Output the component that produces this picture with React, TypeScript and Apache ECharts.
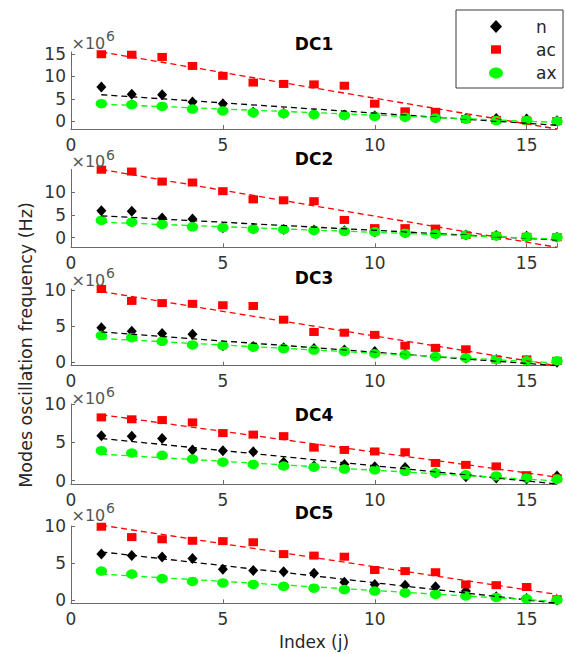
import React, { useEffect, useRef } from "react";
import * as echarts from "echarts";

// Index of the oscillation mode
const indexJ = [1, 2, 3, 4, 5, 6, 7, 8, 9, 10, 11, 12, 13, 14, 15, 16];
const panelNames = ["DC1", "DC2", "DC3", "DC4", "DC5"];
const seriesNames = ["n", "ac", "ax"];
const xTickValues = [0, 5, 10, 15];
const yTickValues = [0, 5, 10, 15];

// Mode oscillation frequencies, in units of 10^6 Hz
const nDC1 = [7.6, 6.0, 5.9, 4.3, 3.9, 2.0, 1.8, 1.6, 1.4, 1.2, 1.0, 0.8, 0.6, 0.6, 0.5, 0.1];
const acDC1 = [14.9, 14.8, 14.3, 12.3, 10.1, 8.6, 8.3, 8.2, 7.9, 3.9, 2.2, 2.1, 0.5, 0.3, 0.15, 0.05];
const axDC1 = [3.9, 3.7, 3.3, 2.7, 2.3, 1.9, 1.7, 1.5, 1.3, 1.1, 0.9, 0.7, 0.45, 0.15, 0.15, 0.0];

const nDC2 = [5.9, 5.8, 4.3, 4.1, 2.2, 2.0, 1.8, 1.7, 1.5, 1.3, 1.1, 0.9, 0.6, 0.5, 0.3, 0.1];
const acDC2 = [14.9, 14.5, 12.3, 12.1, 10.2, 8.4, 8.2, 8.0, 3.9, 2.1, 2.1, 2.0, 0.6, 0.4, 0.2, 0.1];
const axDC2 = [3.8, 3.4, 2.9, 2.4, 2.2, 1.9, 1.8, 1.6, 1.4, 1.3, 1.0, 0.8, 0.6, 0.4, 0.2, 0.1];

const nDC3 = [4.8, 4.3, 4.0, 3.9, 2.3, 2.2, 2.0, 1.9, 1.7, 1.5, 1.1, 0.9, 0.6, 0.4, 0.2, 0.0];
const acDC3 = [10.15, 8.5, 8.2, 8.1, 7.9, 7.8, 5.9, 4.2, 4.1, 3.8, 2.3, 2.0, 1.8, 0.4, 0.4, 0.2];
const axDC3 = [3.7, 3.4, 2.9, 2.4, 2.3, 2.1, 1.9, 1.7, 1.5, 1.2, 1.05, 0.8, 0.6, 0.4, 0.2, 0.2];

const nDC4 = [5.85, 5.8, 5.5, 4.0, 3.9, 3.75, 2.4, 1.9, 2.1, 1.8, 1.7, 1.0, 0.5, 0.35, 0.2, 0.6];
const acDC4 = [8.25, 8.0, 7.9, 7.6, 6.2, 6.0, 5.8, 4.3, 4.0, 3.8, 3.7, 2.3, 2.05, 1.85, 0.7, 0.3];
const axDC4 = [3.9, 3.6, 3.3, 2.8, 2.4, 2.1, 1.9, 1.75, 1.5, 1.4, 1.2, 1.0, 0.75, 0.6, 0.35, 0.2];

const nDC5 = [6.2, 6.0, 5.8, 5.6, 4.15, 4.0, 3.8, 3.6, 2.4, 2.1, 2.0, 1.8, 1.2, 0.45, 0.2, 0.0];
const acDC5 = [9.9, 8.5, 8.2, 8.0, 7.95, 7.8, 6.2, 6.0, 5.85, 4.05, 3.9, 3.75, 2.1, 2.0, 1.75, 0.1];
const axDC5 = [3.9, 3.5, 2.9, 2.5, 2.3, 2.1, 1.85, 1.6, 1.4, 1.2, 0.95, 0.75, 0.55, 0.35, 0.15, 0.0];

// Linear fits: fitted value at j = 1 and at j = 16
const nFitDC1 = [5.9, -0.9];
const acFitDC1 = [15.4, -1.72];
const axFitDC1 = [3.8, -0.25];
const nFitDC2 = [4.8, -0.5];
const acFitDC2 = [14.95, -2.1];
const axFitDC2 = [3.4, -0.3];
const nFitDC3 = [4.2, -0.47];
const acFitDC3 = [9.8, -0.47];
const axFitDC3 = [3.3, -0.1];
const nFitDC4 = [5.5, -0.45];
const acFitDC4 = [8.6, 0.45];
const axFitDC4 = [3.45, -0.05];
const nFitDC5 = [6.5, -0.45];
const acFitDC5 = [10.1, 0.75];
const axFitDC5 = [3.5, -0.2];

// Y-axis limits of each panel
const yMinDC = [-1.72, -2.1, -0.47, -0.45, -0.45];
const yMaxDC = [15.4, 14.95, 10.15, 10.0, 10.0];

const pointData = [
  [nDC1, acDC1, axDC1],
  [nDC2, acDC2, axDC2],
  [nDC3, acDC3, axDC3],
  [nDC4, acDC4, axDC4],
  [nDC5, acDC5, axDC5],
];
const fitData = [
  [nFitDC1, acFitDC1, axFitDC1],
  [nFitDC2, acFitDC2, axFitDC2],
  [nFitDC3, acFitDC3, axFitDC3],
  [nFitDC4, acFitDC4, axFitDC4],
  [nFitDC5, acFitDC5, axFitDC5],
];

const FONT = "DejaVu Sans";
const AXIS_COLOR = "#6a6a6a";
const LABEL_COLOR = "#333333";
const COLORS = ["#000000", "#ff0000", "#00ff00"];
const SYMBOLS = ["diamond", "rect", "circle"];
const SYMBOL_SIZES: number[][] = [
  [10, 11],
  [9.5, 8],
  [11.5, 9.5],
];

const PLOT_LEFT = 71;
const PLOT_WIDTH = 486;
const PANEL_TOPS = [52, 169.5, 289, 404, 526];
const PANEL_HEIGHTS = [77, 77.8, 76.7, 80, 77.3];
const TITLE_Y = [43.5, 159, 278, 415, 513];
const EXPONENT_Y = [43, 161.5, 280, 398.5, 515];

function buildOption() {
  const centerX = PLOT_LEFT + PLOT_WIDTH / 2;

  const grid = panelNames.map((_, i) => ({
    left: PLOT_LEFT,
    top: PANEL_TOPS[i],
    width: PLOT_WIDTH,
    height: PANEL_HEIGHTS[i],
  }));

  const xAxis = panelNames.map((_, i) => ({
    type: "value",
    gridIndex: i,
    min: 0,
    max: 16,
    interval: 5,
    axisLine: { show: true, onZero: false, lineStyle: { color: AXIS_COLOR, width: 1 } },
    axisTick: { show: true, inside: true, length: 4, lineStyle: { color: AXIS_COLOR } },
    axisLabel: {
      fontSize: 17,
      color: LABEL_COLOR,
      fontFamily: FONT,
      margin: 7,
      customValues: xTickValues,
    },
    splitLine: { show: false },
  }));

  const yAxis = panelNames.map((_, i) => {
    const ticks = yTickValues.filter((v) => v >= yMinDC[i] && v <= yMaxDC[i]);
    return {
      type: "value",
      gridIndex: i,
      min: yMinDC[i],
      max: yMaxDC[i],
      axisLine: { show: true, onZero: false, lineStyle: { color: AXIS_COLOR, width: 1 } },
      axisTick: {
        show: true,
        inside: true,
        length: 4,
        customValues: ticks,
        lineStyle: { color: AXIS_COLOR },
      },
      axisLabel: {
        fontSize: 17,
        color: LABEL_COLOR,
        fontFamily: FONT,
        margin: 5,
        customValues: ticks,
      },
      splitLine: { show: false },
    };
  });

  const series: any[] = [];
  panelNames.forEach((_, i) => {
    seriesNames.forEach((name, s) => {
      series.push({
        type: "scatter",
        name,
        xAxisIndex: i,
        yAxisIndex: i,
        data: indexJ.map((j, k) => [j, pointData[i][s][k]]),
        symbol: SYMBOLS[s],
        symbolSize: SYMBOL_SIZES[s],
        itemStyle: { color: COLORS[s], opacity: 1 },
        clip: false,
        z: 2,
        silent: true,
      });
    });
    seriesNames.forEach((name, s) => {
      const fit = fitData[i][s];
      series.push({
        type: "line",
        name: name + " fit",
        xAxisIndex: i,
        yAxisIndex: i,
        data: [
          [indexJ[0], fit[0]],
          [indexJ[indexJ.length - 1], fit[1]],
        ],
        symbol: "none",
        lineStyle: { color: COLORS[s], width: 1.3, type: [6, 4] },
        z: 3,
        silent: true,
      });
    });
  });

  const graphic: any[] = [];

  panelNames.forEach((title, i) => {
    graphic.push({
      type: "text",
      x: centerX,
      y: TITLE_Y[i],
      z: 100,
      style: {
        text: title,
        fontFamily: FONT,
        fontSize: 17,
        fontWeight: "bold",
        fill: "#000",
        align: "center",
        verticalAlign: "middle",
      },
    });
    graphic.push({
      type: "text",
      x: PLOT_LEFT + 0.5,
      y: EXPONENT_Y[i],
      z: 100,
      style: {
        text: "×10",
        fontFamily: FONT,
        fontSize: 16,
        fill: "#555",
        align: "left",
        verticalAlign: "middle",
      },
    });
    graphic.push({
      type: "text",
      x: PLOT_LEFT + 35,
      y: EXPONENT_Y[i] - 7,
      z: 100,
      style: {
        text: "6",
        fontFamily: FONT,
        fontSize: 14,
        fill: "#555",
        align: "left",
        verticalAlign: "middle",
      },
    });
  });

  // Axis titles
  graphic.push({
    type: "text",
    x: 26,
    y: 345,
    rotation: Math.PI / 2,
    z: 100,
    style: {
      text: "Modes oscillation frequency (Hz)",
      fontFamily: FONT,
      fontSize: 17.5,
      fill: "#262626",
      align: "center",
      verticalAlign: "middle",
    },
  });
  graphic.push({
    type: "text",
    x: centerX,
    y: 641.5,
    z: 100,
    style: {
      text: "Index (j)",
      fontFamily: FONT,
      fontSize: 17,
      fill: "#262626",
      align: "center",
      verticalAlign: "middle",
    },
  });

  // Legend box
  const lx = 496;
  const rowY = [26.5, 49.5, 73];
  graphic.push({
    type: "rect",
    z: 100,
    shape: { x: 456, y: 10, width: 107, height: 78 },
    style: { fill: "#fff", stroke: "#3a3a3a", lineWidth: 1 },
  });
  graphic.push({
    type: "polygon",
    z: 101,
    shape: {
      points: [
        [lx, rowY[0] - 6.5],
        [lx + 6, rowY[0]],
        [lx, rowY[0] + 6.5],
        [lx - 6, rowY[0]],
      ],
    },
    style: { fill: COLORS[0] },
  });
  graphic.push({
    type: "rect",
    z: 101,
    shape: { x: lx - 5, y: rowY[1] - 4.2, width: 10, height: 8.4 },
    style: { fill: COLORS[1] },
  });
  graphic.push({
    type: "ellipse",
    z: 101,
    shape: { cx: lx, cy: rowY[2], rx: 7, ry: 5.5 },
    style: { fill: COLORS[2] },
  });
  seriesNames.forEach((name, s) => {
    graphic.push({
      type: "text",
      x: 536,
      y: rowY[s],
      z: 101,
      style: {
        text: name,
        fontFamily: FONT,
        fontSize: 17,
        fill: "#262626",
        align: "left",
        verticalAlign: "middle",
      },
    });
  });

  return {
    animation: false,
    backgroundColor: "#ffffff",
    textStyle: { fontFamily: FONT },
    grid,
    xAxis,
    yAxis,
    series,
    graphic,
  };
}

export default function App() {
  const ref = useRef<HTMLDivElement>(null);

  useEffect(() => {
    if (!ref.current) return;
    const chart = echarts.init(ref.current, undefined, { renderer: "svg" });
    chart.setOption(buildOption() as any);
    return () => chart.dispose();
  }, []);

  return (
    <div
      ref={ref}
      style={{ position: "fixed", left: 0, top: 0, width: 566, height: 654, background: "#fff" }}
    />
  );
}
